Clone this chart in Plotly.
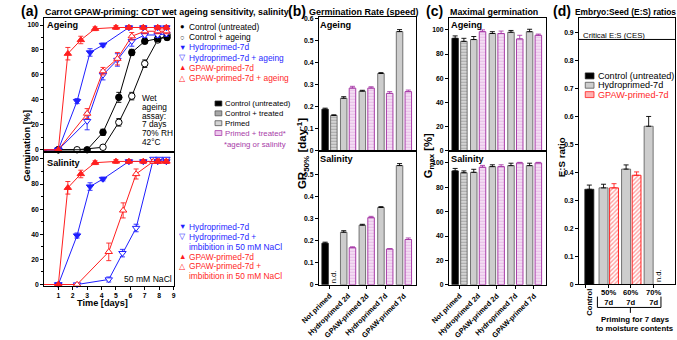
import plotly.graph_objects as go

W, H = 677, 340
FONT = "Liberation Sans, Arial, sans-serif"

# ---------------- DATA ----------------
# (a) germination time courses, ageing
days_ctrl = [0, 1, 3.0, 4.1, 5.2, 6.1, 7.0, 7.9, 8.55]
ctrl = [0, 0, 0, 14, 42, 78, 87, 89, 90]
ctrl_err = [0, 0, 0, 2.5, 4, 2.5, 2, 2, 2]
days_ctrl_aged = [0, 1, 2.3, 4.1, 5.2, 6.1, 7.0, 7.9, 8.55]
ctrl_aged = [0, 0, 0, 2, 22, 43, 69, 88, 92]
ctrl_aged_err = [0, 0, 0, 1, 3, 3, 3, 2, 2]
days_hydro = [0, 1, 2.3, 3.2, 4.1, 5.9, 6.9, 7.9, 8.5]
hydro = [0, 0, 39, 78, 84, 98, 98, 98, 98]
hydro_err = [0, 0, 2, 3, 1.5, 1.5, 1.5, 1.5, 1.5]
days_hydro_aged = [0, 1, 3.0, 4.1, 5.1, 6.1, 7.0, 7.9, 8.5]
hydro_aged = [0, 0, 23, 60, 72, 87, 92, 92, 93]
hydro_aged_err = [0, 0, 7, 4, 5, 4, 2, 2, 2]
days_gpaw = [0, 1, 1.66, 2.56, 3.55, 5.0, 5.9, 6.9, 7.9, 8.5]
gpaw = [0, 0, 77, 88, 97, 98, 98, 98, 98, 98]
gpaw_err = [0, 0, 5, 3, 1.5, 1.5, 1.5, 1.5, 1.5, 1.5]
days_gpaw_aged = [0, 1, 3.0, 4.1, 5.1, 6.1, 7.0, 7.9, 8.5]
gpaw_aged = [0, 0, 29, 63, 73, 91, 95, 95, 95]
gpaw_aged_err = [0, 0, 4, 3, 5, 3, 2, 2, 2]
# (a) salinity
days_hydro_nacl = [0, 1, 2.3, 4.5, 5.45, 6.4, 7.6, 8.0, 8.5]
hydro_nacl = [0, 0, 0, 4, 25, 45, 100, 100, 100]
hydro_nacl_err = [0, 0, 0, 2, 3, 3, 0.5, 0.5, 0.5]
days_gpaw_nacl = [0, 1, 2.3, 4.5, 5.5, 6.4, 7.6, 8.0, 8.5]
gpaw_nacl = [0, 0, 0, 26, 59, 88, 98, 98, 98]
gpaw_nacl_err = [0, 0, 0, 7, 6, 4, 1.5, 1.5, 1.5]
time_ticks = list(range(0, 10))

# (b),(c) categories
cats = ["Not primed", "Hydroprimed 2d", "GPAW-primed 2d", "Hydroprimed 7d", "GPAW-primed 7d"]
primed_cats = cats[1:]
# (b) GR50 ageing
gr_ctrl_age, gr_ctrl_age_err = [0.188], [0.005]
gr_ctrl_trt_age, gr_ctrl_trt_age_err = [0.160], [0.003]
gr_primed_age = [0.238, 0.270, 0.350, 0.540]
gr_primed_age_err = [0.007, 0.004, 0.004, 0.009]
gr_trt_age = [0.284, 0.284, 0.260, 0.268]
gr_trt_age_err = [0.008, 0.006, 0.008, 0.007]
# (b) GR50 salinity
gr_ctrl_sal, gr_ctrl_sal_err = [0.188], [0.005]
gr_primed_sal = [0.238, 0.270, 0.350, 0.540]
gr_primed_sal_err = [0.007, 0.004, 0.004, 0.009]
gr_trt_sal = [0.168, 0.304, 0.162, 0.205]
gr_trt_sal_err = [0.004, 0.006, 0.002, 0.007]
# (c) Gmax ageing
gm_ctrl_age, gm_ctrl_age_err = [93], [2]
gm_ctrl_trt_age, gm_ctrl_trt_age_err = [90.5], [2.5]
gm_primed_age = [92, 97, 98, 98.5]
gm_primed_age_err = [2.5, 1.5, 1.5, 2]
gm_trt_age = [98.5, 97, 92.5, 95.5]
gm_trt_age_err = [1.5, 2, 3, 1]
# (c) Gmax salinity
gm_ctrl_sal, gm_ctrl_sal_err = [93.5], [2]
gm_ctrl_trt_sal, gm_ctrl_trt_sal_err = [92], [1.5]
gm_primed_sal = [92.3, 97, 97.8, 97.8]
gm_primed_sal_err = [2.5, 1.5, 2, 2]
gm_trt_sal = [96.5, 97, 100, 100]
gm_trt_sal_err = [1.5, 1.5, 0.5, 0.5]
# (d) E:S ratio
cats_d = ["Control", "50%", "60%", "70%"]
es_ctrl, es_ctrl_err = [0.340], [0.015]
es_hydro = [0.345, 0.412, 0.565]
es_hydro_err = [0.013, 0.015, 0.035]
es_gpaw = [0.345, 0.390, None]
es_gpaw_err = [0.015, 0.012, 0]
CES = 0.875

# ---------------- helpers ----------------
def PX(x): return x / W
def PY(y): return 1 - y / H

BLUE = "#1f1fff"
RED = "#ff1f1f"
PURPLE = "#a83ca8"

fig = go.Figure()

def line_trace(x, y, err, color, symbol, filled, xa, ya, name):
    return go.Scatter(
        x=x, y=y, mode="lines+markers", name=name, xaxis=xa, yaxis=ya,
        line=dict(color=color, width=1),
        marker=dict(symbol=symbol, size=6.5, color=color if filled else "white",
                    line=dict(color=color, width=1)),
        error_y=dict(type="data", array=err, visible=True, color=color,
                     thickness=0.9, width=2.5),
        showlegend=False, cliponaxis=False)

# (a) ageing
fig.add_trace(line_trace(days_ctrl_aged, ctrl_aged, ctrl_aged_err, "black", "circle", False, "x", "y", "Control + ageing"))
fig.add_trace(line_trace(days_ctrl, ctrl, ctrl_err, "black", "circle", True, "x", "y", "Control"))
fig.add_trace(line_trace(days_hydro_aged, hydro_aged, hydro_aged_err, BLUE, "triangle-down", False, "x", "y", "Hydro + ageing"))
fig.add_trace(line_trace(days_gpaw_aged, gpaw_aged, gpaw_aged_err, RED, "triangle-up", False, "x", "y", "GPAW + ageing"))
fig.add_trace(line_trace(days_hydro, hydro, hydro_err, BLUE, "triangle-down", True, "x", "y", "Hydro"))
fig.add_trace(line_trace(days_gpaw, gpaw, gpaw_err, RED, "triangle-up", True, "x", "y", "GPAW"))
# (a) salinity
fig.add_trace(line_trace(days_hydro_nacl, hydro_nacl, hydro_nacl_err, BLUE, "triangle-down", False, "x2", "y2", "Hydro + NaCl"))
fig.add_trace(line_trace(days_gpaw_nacl, gpaw_nacl, gpaw_nacl_err, RED, "triangle-up", False, "x2", "y2", "GPAW + NaCl"))
fig.add_trace(line_trace(days_hydro, hydro, hydro_err, BLUE, "triangle-down", True, "x2", "y2", "Hydro"))
fig.add_trace(line_trace(days_gpaw, gpaw, gpaw_err, RED, "triangle-up", True, "x2", "y2", "GPAW"))

# bar styles
ST_BLACK = dict(color="black", line=dict(color="#222", width=0.8))
ST_GRAYSTRIPE = dict(color="#d4d4d4", line=dict(color="#555", width=0.8),
                     pattern=dict(shape="-", bgcolor="#d9d9d9", fgcolor="#7a7a7a", size=3, solidity=0.4))
ST_GRAY = dict(color="#cdcdcd", line=dict(color="#555", width=0.8))
ST_PURPLE = dict(color="#f3e0f3", line=dict(color=PURPLE, width=1),
                 pattern=dict(shape="-", bgcolor="#f7e8f7", fgcolor="#d591d5", size=3, solidity=0.5))
ST_RED = dict(color="white", line=dict(color=RED, width=1),
              pattern=dict(shape="/", bgcolor="white", fgcolor="#ff4040", size=3, solidity=0.45))

def bar(x, y, err, style, xa, ya, offset, width, ecolor="black"):
    return go.Bar(x=x, y=y, xaxis=xa, yaxis=ya, marker=style, offset=offset, width=width,
                  error_y=dict(type="data", array=err, arrayminus=[0] * len(err), symmetric=False,
                               color=ecolor, thickness=0.9, width=2.5),
                  showlegend=False)

L_OFF, R_OFF, BW = -0.41, 0.06, 0.35
# (b)
fig.add_trace(bar(cats[:1], gr_ctrl_age, gr_ctrl_age_err, ST_BLACK, "x3", "y3", L_OFF, BW))
fig.add_trace(bar(cats[:1], gr_ctrl_trt_age, gr_ctrl_trt_age_err, ST_GRAYSTRIPE, "x3", "y3", R_OFF, BW))
fig.add_trace(bar(primed_cats, gr_primed_age, gr_primed_age_err, ST_GRAY, "x3", "y3", L_OFF, BW))
fig.add_trace(bar(primed_cats, gr_trt_age, gr_trt_age_err, ST_PURPLE, "x3", "y3", R_OFF, BW, PURPLE))
fig.add_trace(bar(cats[:1], gr_ctrl_sal, gr_ctrl_sal_err, ST_BLACK, "x4", "y4", L_OFF, BW))
fig.add_trace(bar(primed_cats, gr_primed_sal, gr_primed_sal_err, ST_GRAY, "x4", "y4", L_OFF, BW))
fig.add_trace(bar(primed_cats, gr_trt_sal, gr_trt_sal_err, ST_PURPLE, "x4", "y4", R_OFF, BW, PURPLE))
# (c)
fig.add_trace(bar(cats[:1], gm_ctrl_age, gm_ctrl_age_err, ST_BLACK, "x5", "y5", L_OFF, BW))
fig.add_trace(bar(cats[:1], gm_ctrl_trt_age, gm_ctrl_trt_age_err, ST_GRAYSTRIPE, "x5", "y5", R_OFF, BW))
fig.add_trace(bar(primed_cats, gm_primed_age, gm_primed_age_err, ST_GRAY, "x5", "y5", L_OFF, BW))
fig.add_trace(bar(primed_cats, gm_trt_age, gm_trt_age_err, ST_PURPLE, "x5", "y5", R_OFF, BW, PURPLE))
fig.add_trace(bar(cats[:1], gm_ctrl_sal, gm_ctrl_sal_err, ST_BLACK, "x6", "y6", L_OFF, BW))
fig.add_trace(bar(cats[:1], gm_ctrl_trt_sal, gm_ctrl_trt_sal_err, ST_GRAYSTRIPE, "x6", "y6", R_OFF, BW))
fig.add_trace(bar(primed_cats, gm_primed_sal, gm_primed_sal_err, ST_GRAY, "x6", "y6", L_OFF, BW))
fig.add_trace(bar(primed_cats, gm_trt_sal, gm_trt_sal_err, ST_PURPLE, "x6", "y6", R_OFF, BW, PURPLE))
# (d)
fig.add_trace(bar(cats_d[:1], es_ctrl, es_ctrl_err, ST_BLACK, "x7", "y7", -0.03, 0.40))
fig.add_trace(bar(cats_d[1:], es_hydro, es_hydro_err, ST_GRAY, "x7", "y7", -0.40, 0.40))
fig.add_trace(bar(cats_d[1:], es_gpaw, es_gpaw_err, ST_RED, "x7", "y7", 0.07, 0.39, RED))

# ---------------- axes ----------------
TF = dict(size=6.8, family=FONT, color="black", weight="bold")
CATF = dict(size=7.3, family=FONT, color="black", weight="bold")

def axis(dom_px, rng, vertical, anchor, **kw):
    if vertical:
        dom = [PY(dom_px[1]), PY(dom_px[0])]
    else:
        dom = [PX(dom_px[0]), PX(dom_px[1])]
    d = dict(domain=dom, range=rng, anchor=anchor, showline=True, linecolor="black",
             linewidth=1, mirror=True, showgrid=False, zeroline=False, ticks="outside",
             ticklen=3, tickwidth=1, tickcolor="black", tickfont=TF, fixedrange=True)
    d.update(kw)
    return d

MINOR_A = dict(dtick=10, ticklen=2, ticks="outside", tickcolor="black")
lay = dict(
    xaxis=axis([26, 160], [0.02, 9.05], False, "y", showticklabels=False, ticks=""),
    yaxis=axis([16, 152], [-1.6, 105.8], True, "x", tickvals=[0, 20, 40, 60, 80, 100], minor=MINOR_A),
    xaxis2=axis([26, 160], [0.02, 9.05], False, "y2", tickvals=time_ticks),
    yaxis2=axis([152, 288], [-1.0, 105.7], True, "x2", tickvals=[0, 20, 40, 60, 80, 100], minor=MINOR_A),
    xaxis3=axis([309, 409.5], [-0.57, 4.67], False, "y3", type="category", categoryarray=cats,
                showticklabels=False, ticks=""),
    yaxis3=axis([15, 151], [0, 0.607], True, "x3", tickvals=[0, 0.1, 0.2, 0.3, 0.4, 0.5, 0.6],
                ticktext=["0", "0.1", "0.2", "0.3", "0.4", "0.5", "0.6"]),
    xaxis4=axis([309, 409.5], [-0.57, 4.67], False, "y4", type="category", categoryarray=cats,
                tickangle=-45, tickfont=CATF),
    yaxis4=axis([151, 287], [0, 0.607], True, "x4", tickvals=[0, 0.1, 0.2, 0.3, 0.4, 0.5],
                ticktext=["0", "0.1", "0.2", "0.3", "0.4", "0.5"]),
    xaxis5=axis([443, 543.5], [-0.57, 4.67], False, "y5", type="category", categoryarray=cats,
                showticklabels=False, ticks=""),
    yaxis5=axis([16, 151], [0, 110], True, "x5", tickvals=[0, 20, 40, 60, 80, 100]),
    xaxis6=axis([443, 543.5], [-0.57, 4.67], False, "y6", type="category", categoryarray=cats,
                tickangle=-45, tickfont=CATF),
    yaxis6=axis([151, 287], [0, 110], True, "x6", tickvals=[0, 20, 40, 60, 80, 100]),
    xaxis7=axis([577, 676], [-0.29, 3.97], False, "y7", type="category", categoryarray=cats_d,
                showticklabels=False),
    yaxis7=axis([16.7, 286.7], [0, 0.95], True, "x7", tickvals=[0, 0.1, 0.2, 0.3, 0.4, 0.5, 0.6, 0.7, 0.8, 0.9],
                ticktext=["0", "0.1", "0.2", "0.3", "0.4", "0.5", "0.6", "0.7", "0.8", "0.9"]),
)

annotations = []
def ann(text, x, y, size=8, color="black", bold=False, xanchor="left", yanchor="middle", angle=0, **kw):
    d = dict(text=text, x=PX(x), y=PY(y), xref="paper", yref="paper", showarrow=False,
             xanchor=xanchor, yanchor=yanchor, textangle=angle, borderpad=0,
             font=dict(size=size, color=color, family=FONT, weight="bold" if bold else "normal"))
    d.update(kw)
    annotations.append(d)

# panel labels and titles
ann("(a)", 1, 9, 14, bold=True)
ann("Carrot GPAW-priming: CDT wet ageing sensitivity, salinity", 25.5, 10, 8.9, bold=True)
ann("(b)", 276, 9, 14, bold=True)
ann("Germination Rate (speed)", 298, 10, 9.0, bold=True)
ann("(c)", 418, 9, 14, bold=True)
ann("Maximal germination", 443, 10, 8.9, bold=True)
ann("(d)", 549, 9, 14, bold=True)
ann("Embryo:Seed (E:S) ratios", 572, 10, 8.4, bold=True)

# panel inner labels
for x0 in (28, 309, 444):
    ann("Ageing", x0, 23.5, 9.2, bold=True)
ann("Salinity", 28, 163, 9.2, bold=True)
ann("Salinity", 309, 159.5, 9.2, bold=True)
ann("Salinity", 444, 159.5, 9.2, bold=True)

# axis titles
ann("Germination [%]", 8, 146, 9.3, bold=True, xanchor="center", angle=-90)
ann("Time [days]", 86, 305.5, 9.2, bold=True, xanchor="center")
ann("GR<sub>50%</sub> [day<sup>-1</sup>]", 292, 154, 11.5, bold=True, xanchor="center", angle=-90)
ann("G<sub>max</sub> [%]", 422, 156, 11.2, bold=True, xanchor="center", angle=-90)
ann("E:S ratio", 559, 157, 9.7, bold=True, xanchor="center", angle=-90)

# wet ageing text
for i, t in enumerate(["Wet", "ageing", "assay:", "7 days", "70% RH", "42\u00b0C"]):
    ann(t, 125.5, 97 + i * 9.1, 8.3)
ann("50 mM NaCl", 158.5, 281, 8.6, xanchor="right")

# (a) legends
leg_a = [("\u25cf", "Control (untreated)", "black"), ("\u25cb", "Control + ageing", "black"),
         ("\u25bc", "Hydroprimed-7d", BLUE), ("\u25bd", "Hydroprimed-7d + ageing", BLUE),
         ("\u25b2", "GPAW-primed-7d", RED), ("\u25b3", "GPAW-primed-7d + ageing", RED)]
for i, (s, t, c) in enumerate(leg_a):
    y = 25.3 + i * 10.4
    ann(s, 168, y, 7.5, c, xanchor="center")
    ann(t, 174.5, y, 8.4, c)
leg_s = [("\u25bc", "Hydroprimed-7d", BLUE), ("\u25bd", "Hydroprimed-7d +", BLUE), ("", "imbibition in 50 mM NaCl", BLUE),
         ("\u25b2", "GPAW-primed-7d", RED), ("\u25b3", "GPAW-primed-7d +", RED), ("", "imbibition in 50 mM NaCl", RED)]
for i, (s, t, c) in enumerate(leg_s):
    y = 228.3 + i * 10
    if s:
        ann(s, 168, y, 7.5, c, xanchor="center")
    ann(t, 174.5, y, 8.4, c)

# bar legend (b,c)
shapes = []
def rect(x0, y0, x1, y1, fill, line):
    shapes.append(dict(type="rect", xref="paper", yref="paper", x0=PX(x0), x1=PX(x1), y0=PY(y1), y1=PY(y0),
                       fillcolor=fill, line=dict(color=line, width=0.8)))
leg_b = [("Control (untreated)", "black", "#222", "black"), ("Control + treated", "#a8a8a8", "#555", "black"),
         ("Primed", "#d4d4d4", "#555", "black"), ("Primed + treated*", "#ecc8ec", PURPLE, PURPLE)]
for i, (t, f, l, c) in enumerate(leg_b):
    y = 103 + i * 10
    rect(202, y - 2.5, 209, y + 2.5, f, l)
    ann(t, 211, y, 7.8, c)
ann("*ageing or salinity", 210, 145, 7.8, PURPLE)

# (d) legend
leg_d = [("Control (untreated)", "black", "#222", "black"), ("Hydroprimed-7d", "#cdcdcd", "#555", "black"),
         ("GPAW-primed-7d", "#ffb0b0", RED, RED)]
for i, (t, f, l, c) in enumerate(leg_d):
    y = 75 + i * 9.5
    rect(583.5, y - 3, 592.5, y + 3, f, l)
    ann(t, 595.5, y, 9.1, c)

# CES line
shapes.append(dict(type="line", xref="x7 domain", yref="y7", x0=0, x1=1, y0=CES, y1=CES,
                   line=dict(color="black", width=1)))
ann("Critical E:S (CES)", 580, 33.5, 7.8)

# n.d. labels
annotations.append(dict(text="n.d.", x=0.235, y=0.004, xref="x4", yref="y4", showarrow=False, textangle=-90,
                        xanchor="center", yanchor="bottom", borderpad=0,
                        font=dict(size=7.5, family=FONT, color="black")))
annotations.append(dict(text="n.d.", x=3.27, y=0.004, xref="x7", yref="y7", showarrow=False, textangle=-90,
                        xanchor="center", yanchor="bottom", borderpad=0,
                        font=dict(size=7.5, family=FONT, color="black")))

# (d) x labels
annotations.append(dict(text="Control", x="Control", y=PY(290), xref="x7", yref="paper", showarrow=False,
                        textangle=-90, xanchor="center", yanchor="top", borderpad=0,
                        font=dict(size=7.6, family=FONT, color="black", weight="bold"), xshift=4))
for c in cats_d[1:]:
    annotations.append(dict(text=c + "<br>7d", x=c, y=PY(299.5), xref="x7", yref="paper", showarrow=False,
                            xanchor="center", yanchor="middle", borderpad=0,
                            font=dict(size=7.6, family=FONT, color="black", weight="bold")))
# bracket
shapes.append(dict(type="path", xref="paper", yref="paper",
                   path=f"M {PX(596)},{PY(299)} L {PX(596)},{PY(310)} L {PX(661.5)},{PY(310)} L {PX(661.5)},{PY(299)}",
                   line=dict(color="black", width=1)))
shapes.append(dict(type="line", xref="paper", yref="paper", x0=PX(630), x1=PX(630), y0=PY(310), y1=PY(315.5),
                   line=dict(color="black", width=1)))
ann("Priming for 7 days", 635, 322, 7.8, bold=True, xanchor="center")
ann("to moisture contents", 635, 331.5, 7.8, bold=True, xanchor="center")

fig.update_layout(
    width=W, height=H, margin=dict(l=0, r=0, t=0, b=0),
    paper_bgcolor="white", plot_bgcolor="white",
    barmode="overlay", showlegend=False,
    font=dict(family=FONT, color="black"),
    annotations=annotations, shapes=shapes, **lay)

fig.write_html("out.html")
